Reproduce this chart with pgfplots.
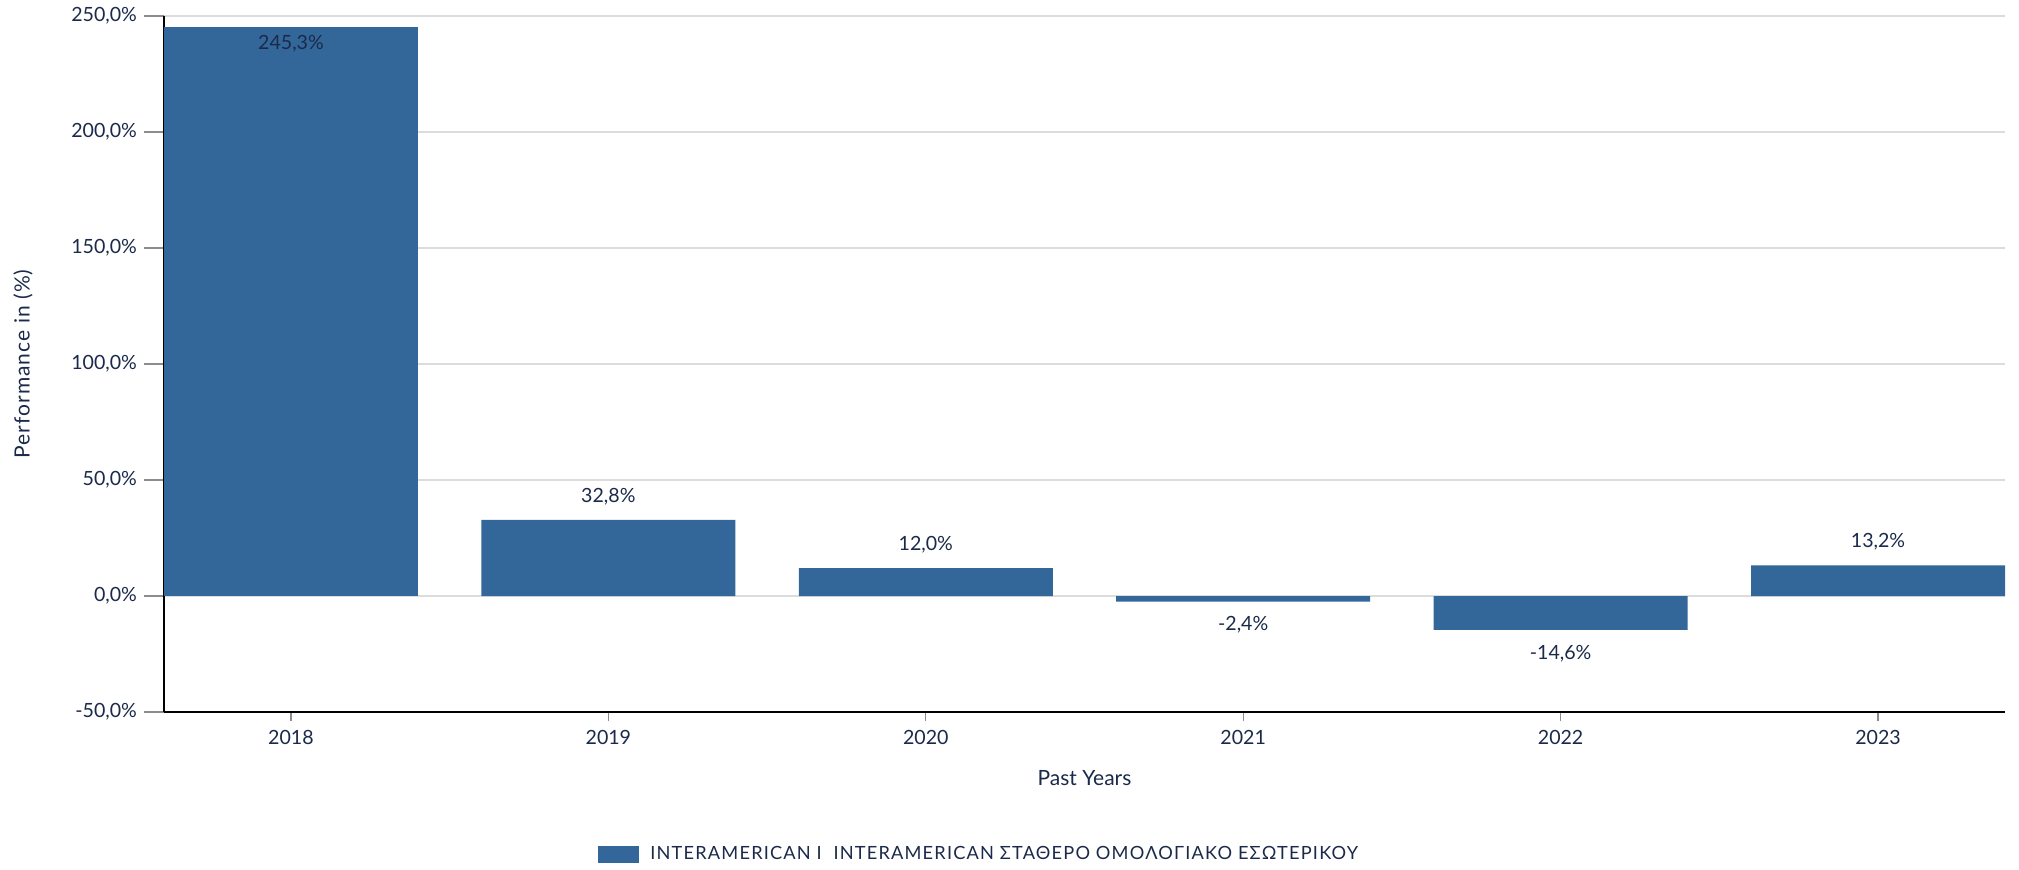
\documentclass[border=0pt]{standalone}
\usepackage{pgfplots}
\pgfplotsset{compat=1.18}
\usepackage{fontspec}
\setmainfont{Lato}
\newfontfamily\widefont{Lato}[LetterSpace=5.0]
\newfontfamily\legfont{Lato}[LetterSpace=6.5]
\definecolor{barblue}{HTML}{336699}
\definecolor{txt}{HTML}{1B2A4A}
\definecolor{gridgray}{HTML}{DCDCDC}
\definecolor{tickgray}{HTML}{8C8C8C}

\newcommand{\pct}[1]{\pgfmathprintnumber[fixed,fixed zerofill,precision=1,use comma]{#1}\%}

\begin{document}
\begin{tikzpicture}
\useasboundingbox (-82pt,-78.5pt) rectangle (927.5pt,356pt);
\begin{axis}[
    scale only axis,
    width=920.5pt, height=348pt,
    xmin=-0.4, xmax=5.4,
    ymin=-50, ymax=250,
    axis lines*=left,
    axis line style={black, line width=1pt},
    xtick={0,1,2,3,4,5},
    xticklabels={2018,2019,2020,2021,2022,2023},
    ytick={-50,0,50,100,150,200,250},
    tick align=outside,
    major tick length=10pt,
    ytick style={tickgray, line width=0.6pt},
    xtick style={tickgray, line width=0.6pt, /pgfplots/major tick length=4.5pt},
    ymajorgrids,
    grid style={gridgray, line width=1pt},
    /pgf/number format/assume math mode=true,
    yticklabel={\pct{\tick}},
    tick label style={font=\fontsize{9.8}{12}\selectfont, text=txt},
    xticklabel style={anchor=base, yshift=-6.3pt},
    xlabel={Past Years},
    ylabel={Performance in (\%)},
    every axis x label/.style={at={(axis description cs:0.5,0)}, yshift=-33pt,
        anchor=center, font=\fontsize{10.5}{12}\selectfont, text=txt},
    every axis y label/.style={at={(axis description cs:0,0.5)}, xshift=-70.5pt,
        rotate=90, anchor=center, font=\widefont\fontsize{10.5}{12}\selectfont, text=txt},
    legend style={at={(axis description cs:0,0)}, anchor=west,
        xshift=217pt, yshift=-71.25pt, draw=none, fill=none, inner sep=0pt,
        font=\legfont\fontsize{9.1}{11}\selectfont, text=txt,
        nodes={inner sep=0pt}},
    point meta=y,
    nodes near coords={\pct{\pgfplotspointmeta}},
]
% positive bars, label above
\addplot[ybar, bar width=0.8, bar shift=0pt, fill=barblue, draw=none,
    every node near coord/.append style={anchor=base, yshift=8.9pt,
        font=\fontsize{9.8}{12}\selectfont, text=txt},
    legend image code/.code={
        \fill[barblue] (0pt,-4.25pt) rectangle (20.5pt,4.25pt);
        \path (26pt,0pt);}
] coordinates {(1,32.8) (2,12.0) (5,13.2)};
% 2018, label inside the bar
\addplot[ybar, bar width=0.8, bar shift=0pt, fill=barblue, draw=none, forget plot,
    every node near coord/.append style={anchor=base, yshift=-11.1pt,
        font=\fontsize{9.8}{12}\selectfont, text=txt}
] coordinates {(0,245.3)};
% negative bars, label below
\addplot[ybar, bar width=0.8, bar shift=0pt, fill=barblue, draw=none, forget plot,
    every node near coord/.append style={anchor=base, yshift=-14.6pt,
        font=\fontsize{9.8}{12}\selectfont, text=txt}
] coordinates {(3,-2.4) (4,-14.6)};
\legend{INTERAMERICAN I\ \ INTERAMERICAN ΣΤΑΘΕΡΟ ΟΜΟΛΟΓΙΑΚΟ ΕΣΩΤΕΡΙΚΟΥ}
\end{axis}
\end{tikzpicture}
\end{document}
